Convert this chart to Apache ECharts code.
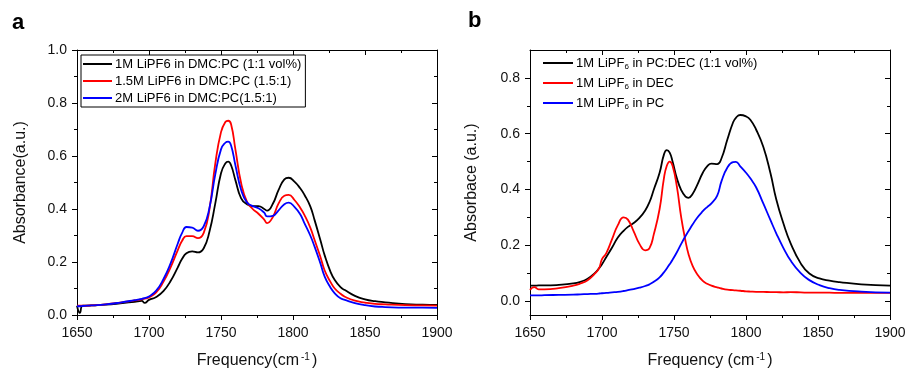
<!DOCTYPE html>
<html>
<head>
<meta charset="utf-8">
<script src="https://cdn.jsdelivr.net/npm/echarts@6/dist/echarts.min.js"></script>
<style>
html,body{margin:0;padding:0;background:#fff;}
#chart{width:908px;height:371px;}
</style>
</head>
<body>
<div id="chart"></div>
<script>
// ---------- Panel a data ----------
const freqA = [1650,1652,1654,1660,1670,1680,1690,1695,1697,1700,1705,1710,1715,1720,1723,1726,1730,1734,1738,1742,1746,1750,1753,1755,1757,1760,1764,1768,1772,1776,1780,1782,1786,1790,1794,1797,1801,1805,1808,1812,1815,1819,1822,1826,1829,1833,1836,1843,1850,1857,1864,1878,1890,1900];
const black1M = [0.035,0.008,0.035,0.036,0.039,0.044,0.050,0.053,0.046,0.057,0.068,0.090,0.128,0.180,0.212,0.233,0.240,0.236,0.252,0.315,0.420,0.535,0.572,0.579,0.565,0.509,0.440,0.418,0.411,0.411,0.400,0.394,0.420,0.472,0.512,0.518,0.503,0.478,0.453,0.410,0.358,0.283,0.225,0.164,0.132,0.105,0.094,0.072,0.059,0.052,0.048,0.041,0.039,0.038];
const red15M = [0.035,0.035,0.035,0.036,0.040,0.047,0.055,0.059,0.062,0.066,0.085,0.125,0.180,0.245,0.280,0.298,0.298,0.290,0.310,0.400,0.570,0.690,0.728,0.733,0.720,0.625,0.497,0.428,0.400,0.382,0.360,0.347,0.370,0.421,0.450,0.453,0.434,0.405,0.377,0.330,0.283,0.220,0.168,0.125,0.100,0.080,0.069,0.054,0.047,0.042,0.040,0.037,0.036,0.035];
const blue2M = [0.033,0.033,0.034,0.036,0.040,0.047,0.056,0.061,0.064,0.070,0.092,0.135,0.195,0.270,0.310,0.332,0.330,0.318,0.335,0.405,0.530,0.625,0.650,0.654,0.640,0.565,0.472,0.425,0.411,0.403,0.386,0.372,0.374,0.395,0.418,0.424,0.408,0.380,0.346,0.300,0.258,0.195,0.145,0.104,0.082,0.063,0.057,0.045,0.037,0.032,0.030,0.028,0.028,0.027];
const namesA = ['1M LiPF6 in DMC:PC (1:1 vol%)','1.5M LiPF6 in DMC:PC (1.5:1)','2M LiPF6 in DMC:PC(1.5:1)'];

// ---------- Panel b data ----------
const freqB = [1650,1653,1656,1660,1670,1680,1685,1690,1695,1698,1700,1703,1707,1711,1715,1718,1722,1726,1730,1733,1736,1740,1743,1745,1747,1749,1752,1755,1758,1760,1763,1766,1770,1773,1776,1780,1783,1787,1791,1793,1796,1800,1803,1807,1812,1817,1821,1826,1831,1838,1844,1851,1858,1865,1880,1900];
const blackPCDEC = [0.055,0.055,0.056,0.056,0.058,0.063,0.069,0.080,0.100,0.118,0.132,0.158,0.192,0.228,0.252,0.266,0.280,0.298,0.325,0.355,0.400,0.460,0.525,0.541,0.532,0.500,0.440,0.398,0.374,0.370,0.385,0.415,0.460,0.483,0.493,0.491,0.512,0.578,0.640,0.657,0.667,0.662,0.650,0.615,0.553,0.458,0.365,0.278,0.207,0.135,0.099,0.081,0.073,0.068,0.060,0.055];
const redDEC = [0.040,0.050,0.042,0.042,0.046,0.055,0.063,0.075,0.098,0.118,0.150,0.172,0.222,0.272,0.300,0.292,0.250,0.205,0.182,0.190,0.240,0.330,0.440,0.485,0.500,0.485,0.410,0.300,0.215,0.170,0.125,0.097,0.072,0.062,0.055,0.049,0.045,0.041,0.039,0.038,0.037,0.035,0.034,0.033,0.033,0.032,0.032,0.031,0.032,0.031,0.030,0.030,0.030,0.029,0.029,0.029];
const bluePC = [0.020,0.020,0.020,0.021,0.022,0.023,0.024,0.025,0.026,0.027,0.028,0.029,0.031,0.033,0.036,0.039,0.043,0.048,0.054,0.060,0.069,0.085,0.103,0.117,0.132,0.148,0.175,0.205,0.233,0.250,0.275,0.298,0.322,0.337,0.350,0.378,0.430,0.478,0.498,0.499,0.483,0.460,0.440,0.408,0.350,0.290,0.243,0.190,0.145,0.100,0.075,0.057,0.046,0.040,0.034,0.030];
const namesB = ['1M LiPF6 in PC:DEC (1:1 vol%)','1M LiPF6 in DEC','1M LiPF6 in PC'];
const yTicksB = [0,0.2,0.4,0.6,0.8];
const yMinorB = [0.1,0.3,0.5,0.7];

const colors = ['#000000','#ff0000','#0000ff'];
const FONT = "'Liberation Sans', Arial, sans-serif";
const TXT = '#111';

function pairs(xs, ys){ return xs.map((x,i)=>[x, ys[i]]); }

const gridA = {left:77, top:50, width:360, height:265, outerBoundsMode:'none', containLabel:false};
const gridB = {left:530, top:50, width:360, height:265, outerBoundsMode:'none', containLabel:false};

function xAxisBottom(gi){
  return {type:'value', gridIndex:gi, min:1650, max:1900, interval:50, position:'bottom',
    axisLine:{show:true, onZero:false, lineStyle:{color:'#000', width:1}},
    axisTick:{show:true, length:5, lineStyle:{color:'#000'}},
    minorTick:{show:true, splitNumber:2, length:3, lineStyle:{color:'#000'}},
    splitLine:{show:false},
    axisLabel:{show:true, margin:11, fontSize:14, color:TXT, fontFamily:FONT, formatter:v=>String(v)},
    name:'Frequency' + (gi===0?'':' ') + '(cm{sup|-1})', nameLocation:'middle', nameGap:37,
    nameTextStyle:{fontSize:16, color:TXT, fontFamily:FONT, lineHeight:18,
      rich:{sup:{fontSize:10, verticalAlign:'top', lineHeight:10, padding:[0,2,0,2], fontFamily:FONT, color:TXT}}}
  };
}
function xAxisTop(gi){
  return {type:'value', gridIndex:gi, min:1650, max:1900, interval:50, position:'top',
    axisLine:{show:true, onZero:false, lineStyle:{color:'#000', width:1}},
    axisTick:{show:true, inside:true, length:5, lineStyle:{color:'#000'}},
    minorTick:{show:true, splitNumber:2, length:3, lineStyle:{color:'#000'}},
    splitLine:{show:false}, axisLabel:{show:false}};
}

const option = {
  animation:false,
  backgroundColor:'#fff',
  textStyle:{fontFamily:FONT},
  grid:[gridA, gridB],
  xAxis:[xAxisBottom(0), xAxisTop(0), xAxisBottom(1), xAxisTop(1)],
  yAxis:[
    {type:'value', gridIndex:0, min:0, max:1.0, interval:0.2, position:'left',
      axisLine:{show:true, onZero:false, lineStyle:{color:'#000'}},
      axisTick:{show:true, length:5, lineStyle:{color:'#000'}},
      minorTick:{show:true, splitNumber:2, length:3, lineStyle:{color:'#000'}},
      splitLine:{show:false},
      axisLabel:{margin:10, fontSize:14, color:TXT, fontFamily:FONT, formatter:v=>v.toFixed(1)},
      name:'Absorbance(a.u.)', nameLocation:'middle', nameGap:48,
      nameTextStyle:{fontSize:16, color:TXT, fontFamily:FONT}},
    {type:'value', gridIndex:0, min:0, max:1.0, interval:0.2, position:'right',
      axisLine:{show:true, onZero:false, lineStyle:{color:'#000'}},
      axisTick:{show:true, inside:true, length:5, lineStyle:{color:'#000'}},
      minorTick:{show:true, splitNumber:2, length:3, lineStyle:{color:'#000'}},
      splitLine:{show:false}, axisLabel:{show:false}},
    {type:'value', gridIndex:1, min:-0.05, max:0.9, position:'left',
      axisLine:{show:true, onZero:false, lineStyle:{color:'#000'}},
      axisTick:{show:true, length:5, customValues:yTicksB, lineStyle:{color:'#000'}},
      splitLine:{show:false},
      axisLabel:{margin:10, fontSize:14, color:TXT, fontFamily:FONT, customValues:yTicksB, formatter:v=>v.toFixed(1)},
      name:'Absorbace (a.u.)', nameLocation:'middle', nameGap:50,
      nameTextStyle:{fontSize:16, color:TXT, fontFamily:FONT}},
    {type:'value', gridIndex:1, min:-0.05, max:0.9, position:'left',
      axisLine:{show:false}, splitLine:{show:false}, axisLabel:{show:false},
      axisTick:{show:true, length:3, customValues:yMinorB, lineStyle:{color:'#000'}}},
    {type:'value', gridIndex:1, min:-0.05, max:0.9, position:'right',
      axisLine:{show:true, onZero:false, lineStyle:{color:'#000'}},
      axisTick:{show:true, inside:true, length:5, customValues:yTicksB, lineStyle:{color:'#000'}},
      splitLine:{show:false}, axisLabel:{show:false, customValues:yTicksB}},
    {type:'value', gridIndex:1, min:-0.05, max:0.9, position:'right',
      axisLine:{show:false}, splitLine:{show:false}, axisLabel:{show:false},
      axisTick:{show:true, inside:true, length:3, customValues:yMinorB, lineStyle:{color:'#000'}}}
  ],
  legend:[
    {data:namesA, orient:'vertical', left:81, top:55, icon:'rect', itemWidth:29, itemHeight:2, itemGap:3,
      padding:[2,4,2,2], borderColor:'#000', borderWidth:1, selectedMode:false,
      textStyle:{fontSize:13, color:'#000', fontFamily:FONT, lineHeight:14, padding:[0,0,0,-2]}},
    {data:namesB, orient:'vertical', left:543, top:55, icon:'rect', itemWidth:30, itemHeight:2, itemGap:4,
      padding:0, selectedMode:false,
      formatter:n=>n.replace('LiPF6','LiPF{s|6}'),
      textStyle:{fontSize:13, color:'#000', fontFamily:FONT, lineHeight:16, padding:[0,0,0,-2],
        rich:{s:{fontSize:8, lineHeight:8, verticalAlign:'bottom', color:'#000', fontFamily:FONT}}}}
  ],
  graphic:[
    {type:'text', left:12, top:12, style:{text:'a', font:"bold 22px 'Liberation Sans', Arial", fill:'#000'}},
    {type:'text', left:468, top:10, style:{text:'b', font:"bold 22px 'Liberation Sans', Arial", fill:'#000'}}
  ],
  series:[
    {name:namesA[0], data:pairs(freqA, black1M), color:colors[0]},
    {name:namesA[1], data:pairs(freqA, red15M), color:colors[1]},
    {name:namesA[2], data:pairs(freqA, blue2M), color:colors[2]},
    {name:namesB[0], data:pairs(freqB, blackPCDEC), color:colors[0], xAxisIndex:2, yAxisIndex:2},
    {name:namesB[1], data:pairs(freqB, redDEC), color:colors[1], xAxisIndex:2, yAxisIndex:2},
    {name:namesB[2], data:pairs(freqB, bluePC), color:colors[2], xAxisIndex:2, yAxisIndex:2}
  ].map(s=>Object.assign({type:'line', xAxisIndex:0, yAxisIndex:0, symbol:'none', showSymbol:false, smooth:0.5,
      lineStyle:{width:1.8, color:s.color}, itemStyle:{color:s.color}}, s))
};
const chart = echarts.init(document.getElementById('chart'), null, {renderer:'canvas'});
chart.setOption(option);
</script>
</body>
</html>
